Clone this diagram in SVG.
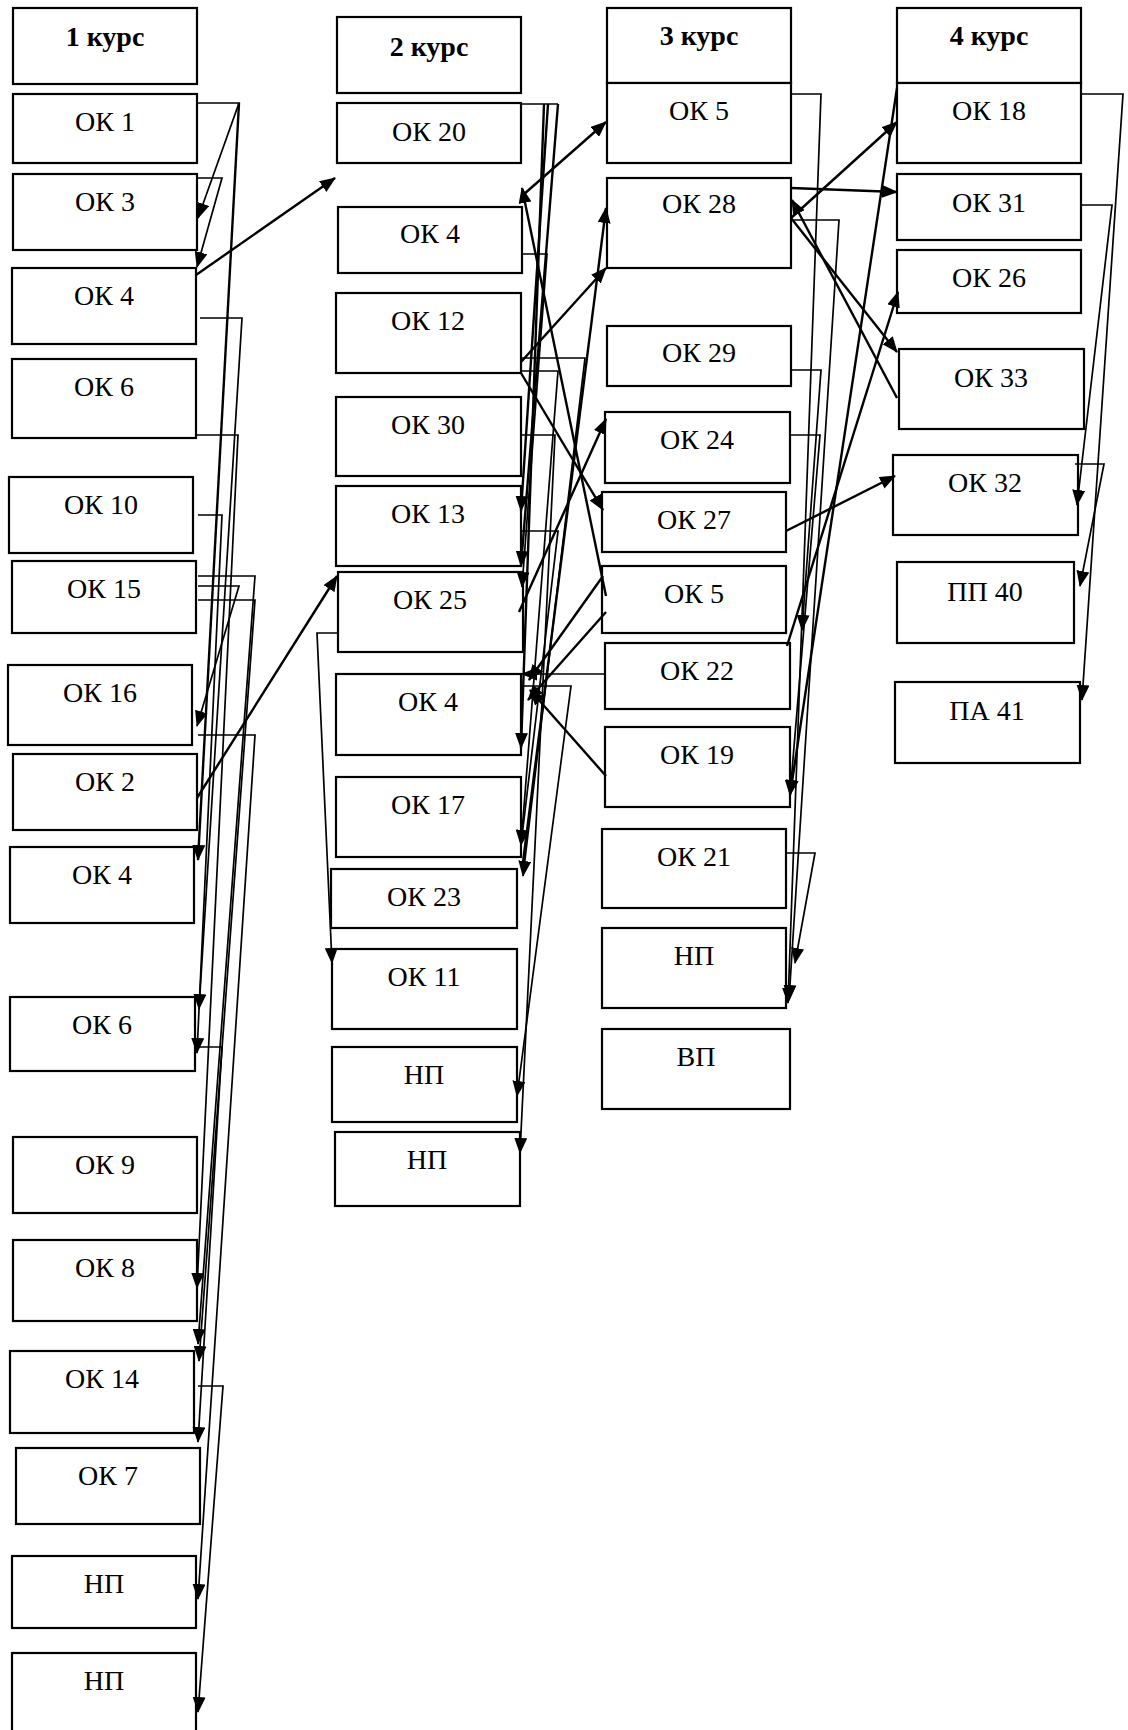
<svg xmlns="http://www.w3.org/2000/svg" width="1128" height="1730" viewBox="0 0 1128 1730">
<style>
.b rect{fill:#fff;stroke:#000;stroke-width:2.2}
.b text{font-family:"Liberation Serif","Times New Roman",serif;font-size:28px;fill:#000;text-anchor:middle}
.b text.h{font-weight:bold}
#connectors line,#connectors polyline{fill:none;stroke:#000;stroke-width:2.4}
#connectors .s{stroke-width:1.7}
#connectors .a{marker-end:url(#ah)}
</style>
<defs>
<marker id="ah" markerWidth="16" markerHeight="13" refX="15" refY="6.5" orient="auto" markerUnits="userSpaceOnUse"><path d="M0,0 L16,6.5 L0,13 z" fill="#000"/></marker>
</defs>
<rect width="1128" height="1730" fill="#fff"/>
<g class="b">
<g id="h1"><rect x="13" y="8" width="184" height="76"/><text class="h" x="105" y="46">1 курс</text></g>
<g id="c1ok1"><rect x="13" y="94" width="184" height="69"/><text x="105" y="131">ОК 1</text></g>
<g id="c1ok3"><rect x="13" y="174" width="184" height="76"/><text x="105" y="211">ОК 3</text></g>
<g id="c1ok4"><rect x="12" y="268" width="184" height="76"/><text x="104" y="305">ОК 4</text></g>
<g id="c1ok6"><rect x="12" y="359" width="184" height="79"/><text x="104" y="396">ОК 6</text></g>
<g id="c1ok10"><rect x="9" y="477" width="184" height="76"/><text x="101" y="514">ОК 10</text></g>
<g id="c1ok15"><rect x="12" y="561" width="184" height="72"/><text x="104" y="598">ОК 15</text></g>
<g id="c1ok16"><rect x="8" y="665" width="184" height="80"/><text x="100" y="702">ОК 16</text></g>
<g id="c1ok2"><rect x="13" y="754" width="184" height="76"/><text x="105" y="791">ОК 2</text></g>
<g id="c1ok4b"><rect x="10" y="847" width="184" height="76"/><text x="102" y="884">ОК 4</text></g>
<g id="c1ok6b"><rect x="10" y="997" width="185" height="74"/><text x="102" y="1034">ОК 6</text></g>
<g id="c1ok9"><rect x="13" y="1137" width="184" height="76"/><text x="105" y="1174">ОК 9</text></g>
<g id="c1ok8"><rect x="13" y="1240" width="184" height="81"/><text x="105" y="1277">ОК 8</text></g>
<g id="c1ok14"><rect x="10" y="1351" width="184" height="82"/><text x="102" y="1388">ОК 14</text></g>
<g id="c1ok7"><rect x="16" y="1448" width="184" height="76"/><text x="108" y="1485">ОК 7</text></g>
<g id="c1np1"><rect x="12" y="1556" width="184" height="72"/><text x="104" y="1593">НП</text></g>
<g id="c1np2"><rect x="12" y="1653" width="184" height="90"/><text x="104" y="1690">НП</text></g>

<g id="h2"><rect x="337" y="17" width="184" height="76"/><text class="h" x="429" y="56">2 курс</text></g>
<g id="c2ok20"><rect x="337" y="103" width="184" height="60"/><text x="429" y="141">ОК 20</text></g>
<g id="c2ok4"><rect x="338" y="207" width="184" height="66"/><text x="430" y="243">ОК 4</text></g>
<g id="c2ok12"><rect x="336" y="293" width="185" height="80"/><text x="428" y="330">ОК 12</text></g>
<g id="c2ok30"><rect x="336" y="397" width="185" height="79"/><text x="428" y="434">ОК 30</text></g>
<g id="c2ok13"><rect x="336" y="486" width="185" height="80"/><text x="428" y="523">ОК 13</text></g>
<g id="c2ok25"><rect x="338" y="572" width="185" height="80"/><text x="430" y="609">ОК 25</text></g>
<g id="c2ok4b"><rect x="336" y="674" width="185" height="81"/><text x="428" y="711">ОК 4</text></g>
<g id="c2ok17"><rect x="336" y="777" width="185" height="80"/><text x="428" y="814">ОК 17</text></g>
<g id="c2ok23"><rect x="331" y="869" width="186" height="59"/><text x="424" y="906">ОК 23</text></g>
<g id="c2ok11"><rect x="332" y="949" width="185" height="80"/><text x="424" y="986">ОК 11</text></g>
<g id="c2np1"><rect x="332" y="1047" width="185" height="75"/><text x="424" y="1084">НП</text></g>
<g id="c2np2"><rect x="335" y="1132" width="185" height="74"/><text x="427" y="1169">НП</text></g>

<g id="h3"><rect x="607" y="8" width="184" height="75"/><text class="h" x="699" y="45">3 курс</text></g>
<g id="c3ok5"><rect x="607" y="83" width="184" height="80"/><text x="699" y="120">ОК 5</text></g>
<g id="c3ok28"><rect x="607" y="178" width="184" height="90"/><text x="699" y="213">ОК 28</text></g>
<g id="c3ok29"><rect x="607" y="326" width="184" height="60"/><text x="699" y="362">ОК 29</text></g>
<g id="c3ok24"><rect x="605" y="412" width="185" height="71"/><text x="697" y="449">ОК 24</text></g>
<g id="c3ok27"><rect x="602" y="492" width="184" height="60"/><text x="694" y="529">ОК 27</text></g>
<g id="c3ok5b"><rect x="602" y="566" width="184" height="67"/><text x="694" y="603">ОК 5</text></g>
<g id="c3ok22"><rect x="605" y="643" width="185" height="66"/><text x="697" y="680">ОК 22</text></g>
<g id="c3ok19"><rect x="605" y="727" width="185" height="80"/><text x="697" y="764">ОК 19</text></g>
<g id="c3ok21"><rect x="602" y="829" width="184" height="79"/><text x="694" y="866">ОК 21</text></g>
<g id="c3np"><rect x="602" y="928" width="184" height="80"/><text x="694" y="965">НП</text></g>
<g id="c3vp"><rect x="602" y="1029" width="188" height="80"/><text x="696" y="1066">ВП</text></g>

<g id="h4"><rect x="897" y="8" width="184" height="75"/><text class="h" x="989" y="45">4 курс</text></g>
<g id="c4ok18"><rect x="897" y="83" width="184" height="80"/><text x="989" y="120">ОК 18</text></g>
<g id="c4ok31"><rect x="897" y="174" width="184" height="66"/><text x="989" y="212">ОК 31</text></g>
<g id="c4ok26"><rect x="897" y="250" width="184" height="63"/><text x="989" y="287">ОК 26</text></g>
<g id="c4ok33"><rect x="899" y="349" width="185" height="80"/><text x="991" y="387">ОК 33</text></g>
<g id="c4ok32"><rect x="893" y="455" width="185" height="80"/><text x="985" y="492">ОК 32</text></g>
<g id="c4pp40"><rect x="897" y="562" width="177" height="81"/><text x="985" y="601">ПП 40</text></g>
<g id="c4pa41"><rect x="895" y="682" width="185" height="81"/><text x="987" y="720">ПА 41</text></g>
</g>

<g id="connectors">
<polyline class="s a" points="197,103 239,103 198,218"/>
<line class="a" x1="239" y1="103" x2="198" y2="860"/>
<polyline class="s a" points="197,178 222,178 197,267"/>
<line class="a" x1="196" y1="275" x2="335" y2="178"/>
<polyline class="s a" points="200,318 242,318 199,1009"/>
<polyline class="s a" points="196,435 238,435 197,1288"/>
<polyline class="s a" points="198,515 222,515 197,1053"/>
<polyline class="s a" points="198,586 239,586 197,726"/>
<polyline class="s a" points="198,576 255,576 198,1344"/>
<polyline class="s a" points="198,600 255,600 199,1361"/>
<polyline class="s a" points="198,735 255,735 198,1599"/>
<line class="a" x1="197" y1="798" x2="337" y2="576"/>
<polyline class="s a" points="198,1047 222,1047 198,1442"/>
<polyline class="s a" points="198,1386 223,1386 198,1712"/>
<polyline class="s" points="521,104 558,104"/>
<line class="a" x1="558" y1="104" x2="521" y2="566"/>
<line class="a" x1="548" y1="104" x2="521" y2="511"/>
<line class="a" x1="544" y1="104" x2="521" y2="748"/>
<polyline class="s a" points="522,254 547,254 522,587"/>
<line class="a" x1="521" y1="362" x2="606" y2="268"/>
<polyline class="s a" points="521,358 585,358 523,876"/>
<polyline class="s a" points="521,371 558,371 521,845"/>
<line class="a" x1="521" y1="373" x2="603" y2="510"/>
<polyline class="s a" points="521,435 555,435 520,1153"/>
<polyline class="s a" points="521,531 558,531 521,845"/>
<line class="a" x1="523" y1="862" x2="606" y2="208"/>
<line class="a" x1="606" y1="596" x2="522" y2="188"/>
<line class="a" x1="523" y1="195" x2="606" y2="122"/>
<line class="a" x1="519" y1="612" x2="606" y2="419"/>
<line class="a" x1="603" y1="576" x2="529" y2="680"/>
<line class="a" x1="606" y1="612" x2="528" y2="700"/>
<line class="s a" x1="606" y1="674" x2="522" y2="674"/>
<line class="a" x1="606" y1="776" x2="530" y2="690"/>
<polyline class="s a" points="523,686 571,686 517,1096"/>
<polyline class="s a" points="338,633 317,633 332,963"/>
<polyline class="s a" points="791,94 821,94 788,1003"/>
<line class="a" x1="791" y1="188" x2="897" y2="192"/>
<line class="a" x1="791" y1="218" x2="897" y2="122"/>
<line class="a" x1="897" y1="398" x2="792" y2="200"/>
<line class="a" x1="791" y1="218" x2="897" y2="352"/>
<polyline class="s a" points="791,220 839,220 789,1000"/>
<polyline class="s a" points="791,370 821,370 802,630"/>
<polyline class="s a" points="790,435 820,435 790,795"/>
<line class="a" x1="897" y1="88" x2="790" y2="795"/>
<line class="a" x1="787" y1="646" x2="898" y2="292"/>
<line class="a" x1="786" y1="531" x2="895" y2="476"/>
<polyline class="s a" points="1081,205 1112,205 1077,505"/>
<polyline class="s a" points="1081,94 1123,94 1082,700"/>
<polyline class="s a" points="1075,464 1104,464 1080,586"/>
<polyline class="s a" points="786,853 815,853 795,963"/>
</g>
</svg>
